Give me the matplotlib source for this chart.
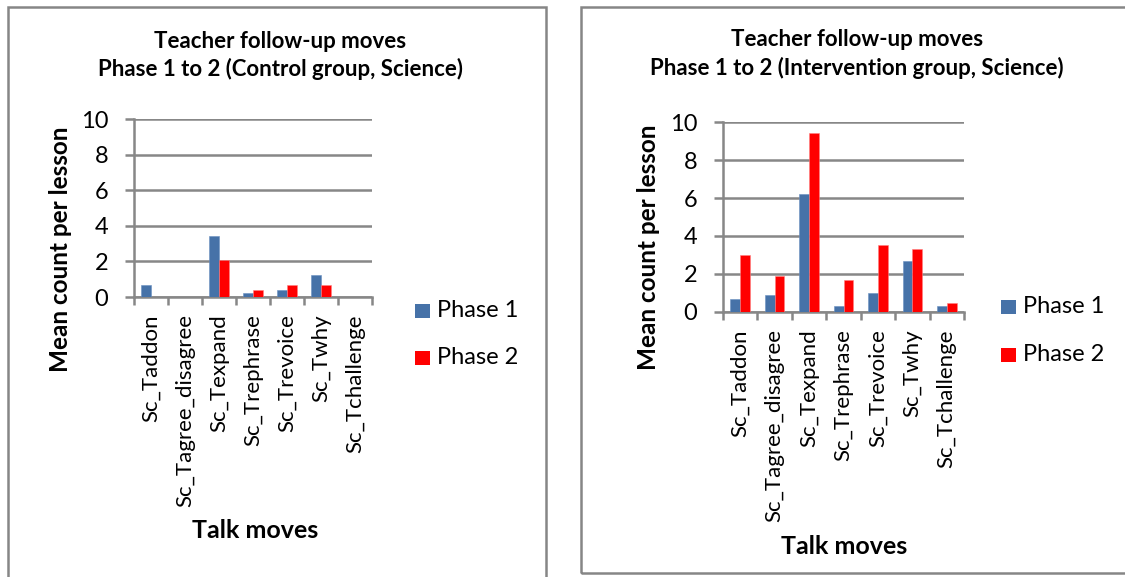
import matplotlib
matplotlib.use("Agg")
import matplotlib.pyplot as plt
import numpy as np
from matplotlib.patches import Rectangle

plt.rcParams['font.family'] = ['Lato', 'DejaVu Sans']

categories = ["Sc_Taddon", "Sc_Tagree_disagree", "Sc_Texpand", "Sc_Trephrase",
              "Sc_Trevoice", "Sc_Twhy", "Sc_Tchallenge"]
series_names = ["Phase 1", "Phase 2"]
control_phase1 = [0.7, 0.0, 3.4, 0.25, 0.4, 1.25, 0.0]
control_phase2 = [0.0, 0.0, 2.1, 0.4, 0.7, 0.7, 0.0]
interv_phase1 = [0.65, 0.87, 6.22, 0.3, 1.0, 2.66, 0.3]
interv_phase2 = [2.98, 1.87, 9.46, 1.66, 3.54, 3.31, 0.44]
yticks = [0, 2, 4, 6, 8, 10]
titles = ["Teacher follow-up moves\nPhase 1 to 2 (Control group, Science)",
          "Teacher follow-up moves\nPhase 1 to 2 (Intervention group, Science)"]
xlabel = "Talk moves"
ylabel = "Mean count per lesson"

BLUE = "#4672A8"
RED = "#FF0000"
GRID = "#878787"

W, H = 1125, 577
fig = plt.figure(figsize=(W / 100, H / 100), dpi=100)

def fx(px):
    return px / W

def fy(py):
    return 1 - py / H

# outer chart borders
border = dict(transform=fig.transFigure, fill=False, edgecolor="#868686", linewidth=1.8)
fig.patches.append(Rectangle((fx(8), fy(590)), fx(546 - 8), (590 - 6.5) / H, **border))
fig.patches.append(Rectangle((fx(581), fy(572.5)), fx(1135 - 581), (572.5 - 6.5) / H, **border))

panels = [
    dict(rect=(134, 119, 372, 297), p1=control_phase1, p2=control_phase2, title=titles[0],
         tcx=280, t1y=41, t2y=69, ylx=60, yly=249, xlx=255, xly=531, legx=415, legy=(310.7, 358)),
    dict(rect=(723, 122.4, 964, 311.7), p1=interv_phase1, p2=interv_phase2, title=titles[1],
         tcx=857, t1y=40, t2y=68, ylx=648, yly=247, xlx=844, xly=546, legx=1001, legy=(306.7, 354.5)),
]

for p in panels:
    x0, y0, x1, y1 = p["rect"]
    ax = fig.add_axes([fx(x0), fy(y1), fx(x1 - x0), (y1 - y0) / H])
    x = np.arange(len(categories))
    bw = 1 / 3.5
    b1 = ax.bar(x - bw / 2, p["p1"], bw, color=BLUE, edgecolor="#6a8fc0", linewidth=0.4,
                label=series_names[0], zorder=3)
    b2 = ax.bar(x + bw / 2, p["p2"], bw, color=RED, edgecolor="#ff8080", linewidth=0.4,
                label=series_names[1], zorder=3)
    ax.set_xlim(-0.5, len(categories) - 0.5)
    ax.set_ylim(0, 10)
    ax.set_yticks(yticks)
    ax.set_yticklabels([str(v) for v in yticks], fontsize=17)
    ax.yaxis.grid(True, color=GRID, linewidth=1.8, zorder=1)
    ax.set_axisbelow(True)
    ax.tick_params(axis="y", length=6.5, width=1.8, color=GRID, pad=12)
    ax.set_xticks(x)
    ax.set_xticklabels(categories, rotation=90, fontsize=16, va="top")
    ax.tick_params(axis="x", which="major", length=0, pad=12.5)
    ax.set_xticks(np.arange(-0.5, len(categories)), minor=True)
    ax.tick_params(axis="x", which="minor", length=5.5, width=1.8, color=GRID)
    for s in ["top", "right"]:
        ax.spines[s].set_visible(False)
    for s in ["left", "bottom"]:
        ax.spines[s].set_color(GRID)
        ax.spines[s].set_linewidth(1.8)
    ax.patch.set_alpha(0)

    lines = p["title"].split("\n")
    fig.text(fx(p["tcx"]), fy(p["t1y"]), lines[0], ha="center", va="center",
             fontsize=16, fontweight="bold")
    fig.text(fx(p["tcx"]), fy(p["t2y"]), lines[1], ha="center", va="center",
             fontsize=16, fontweight="bold")
    fig.text(fx(p["ylx"]), fy(p["yly"]), ylabel, rotation=90, ha="center", va="center",
             fontsize=17.5, fontweight="bold")
    fig.text(fx(p["xlx"]), fy(p["xly"]), xlabel, ha="center", va="center",
             fontsize=18, fontweight="bold")

    # legend entries
    handles = [b1, b2]
    for h, name, ly in zip(handles, series_names, p["legy"]):
        fig.patches.append(Rectangle((fx(p["legx"]), fy(ly + 7)), fx(15), 14 / H,
                                     transform=fig.transFigure,
                                     facecolor=h.patches[0].get_facecolor(), edgecolor="none"))
        fig.text(fx(p["legx"] + 22), fy(ly), name, ha="left", va="center", fontsize=17)

fig.savefig("out.png", dpi=100)
